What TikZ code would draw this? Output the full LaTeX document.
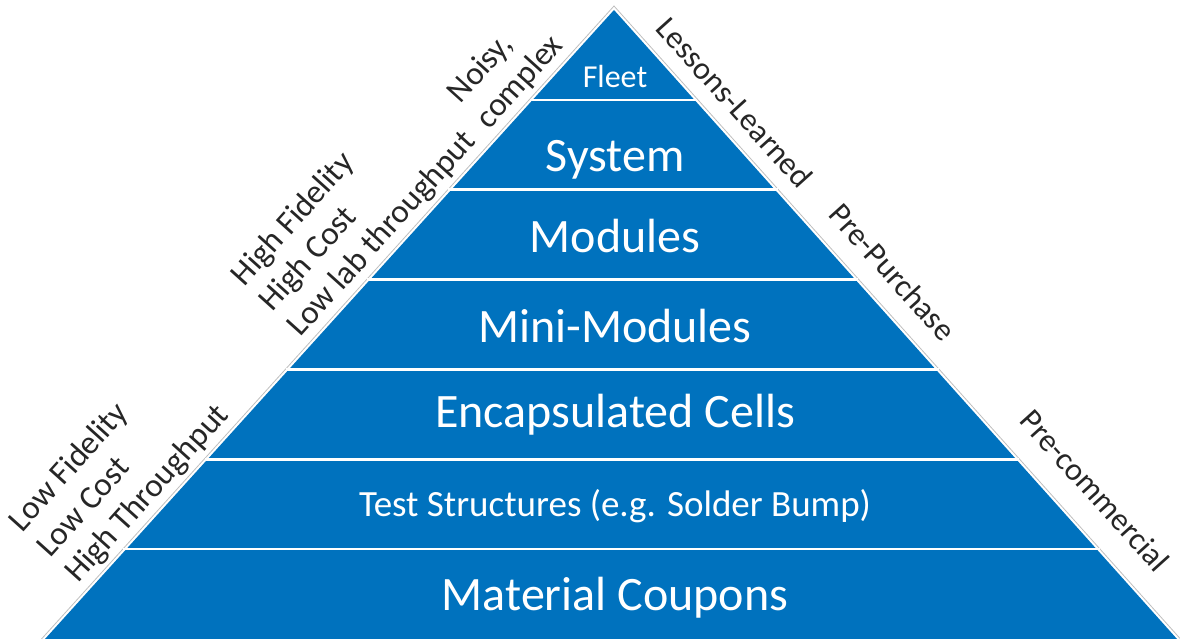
\documentclass[tikz,border=0pt]{standalone}
\usepackage{fontspec}
\setmainfont{Carlito}
\usepackage{tikz}
\usetikzlibrary{calc}
\definecolor{pyrblue}{RGB}{0,114,190}

\begin{document}
\begin{tikzpicture}[x=1pt,y=-1pt,
  layer/.style={text=white,font=\fontsize{48}{54}\selectfont},
  side/.style={text=black!85,font=\fontsize{33}{38}\selectfont,align=left,inner sep=0pt}]
\useasboundingbox (0,0) rectangle (1180,639);
\coordinate (apex) at (614,10);
\coordinate (bl) at (45,639);
\coordinate (br) at (1177,639);

% thin grey rim along the slopes
\draw[black!25,line width=0.8pt] (41.5,639) -- (614,6) -- (1180.5,639);
\fill[pyrblue] (apex) -- (bl) -- (br) -- cycle;
\foreach \k in {1,...,6}
  \draw[white,line width=2.5pt] ($(apex)!\k/7!(bl)+(-3,0)$) -- ($(apex)!\k/7!(br)+(3,0)$);

\node (fleet) at (615,77) [layer,font=\fontsize{32}{36}\selectfont] {Fleet};
\node (system) at (615,160) [layer] {System};
\node (modules) at (615,236) [layer] {Modules};
\node (minimod) at (615,326) [layer] {Mini-Modules};
\node (cells) at (615,415) [layer] {Encapsulated Cells};
\node (teststr) at (615,506) [layer,font=\fontsize{37}{42}\selectfont] {Test Structures (e.g. Solder Bump)};
\node (coupons) at (615,598) [layer] {Material Coupons};

\node (lowfid) at (83,588) [side,rotate=48,anchor=south west] {Low Fidelity\\Low Cost\\High Throughput};
\node (highfid) at (305,342) [side,rotate=48,anchor=south west] {High Fidelity\\High Cost\\Low lab throughput};
\node (noisy) at (493,134) [side,rotate=48,anchor=south west] {Noisy,\\complex};

\node (lessons) at (654,30) [side,font=\fontsize{32}{36}\selectfont,rotate=-48,anchor=south west] {Lessons-Learned};
\node (prepurch) at (827,216) [side,font=\fontsize{32}{36}\selectfont,rotate=-48,anchor=south west] {Pre-Purchase};
\node (precomm) at (1018,422) [side,font=\fontsize{32}{36}\selectfont,rotate=-48,anchor=south west] {Pre-commercial};
\end{tikzpicture}
\end{document}
